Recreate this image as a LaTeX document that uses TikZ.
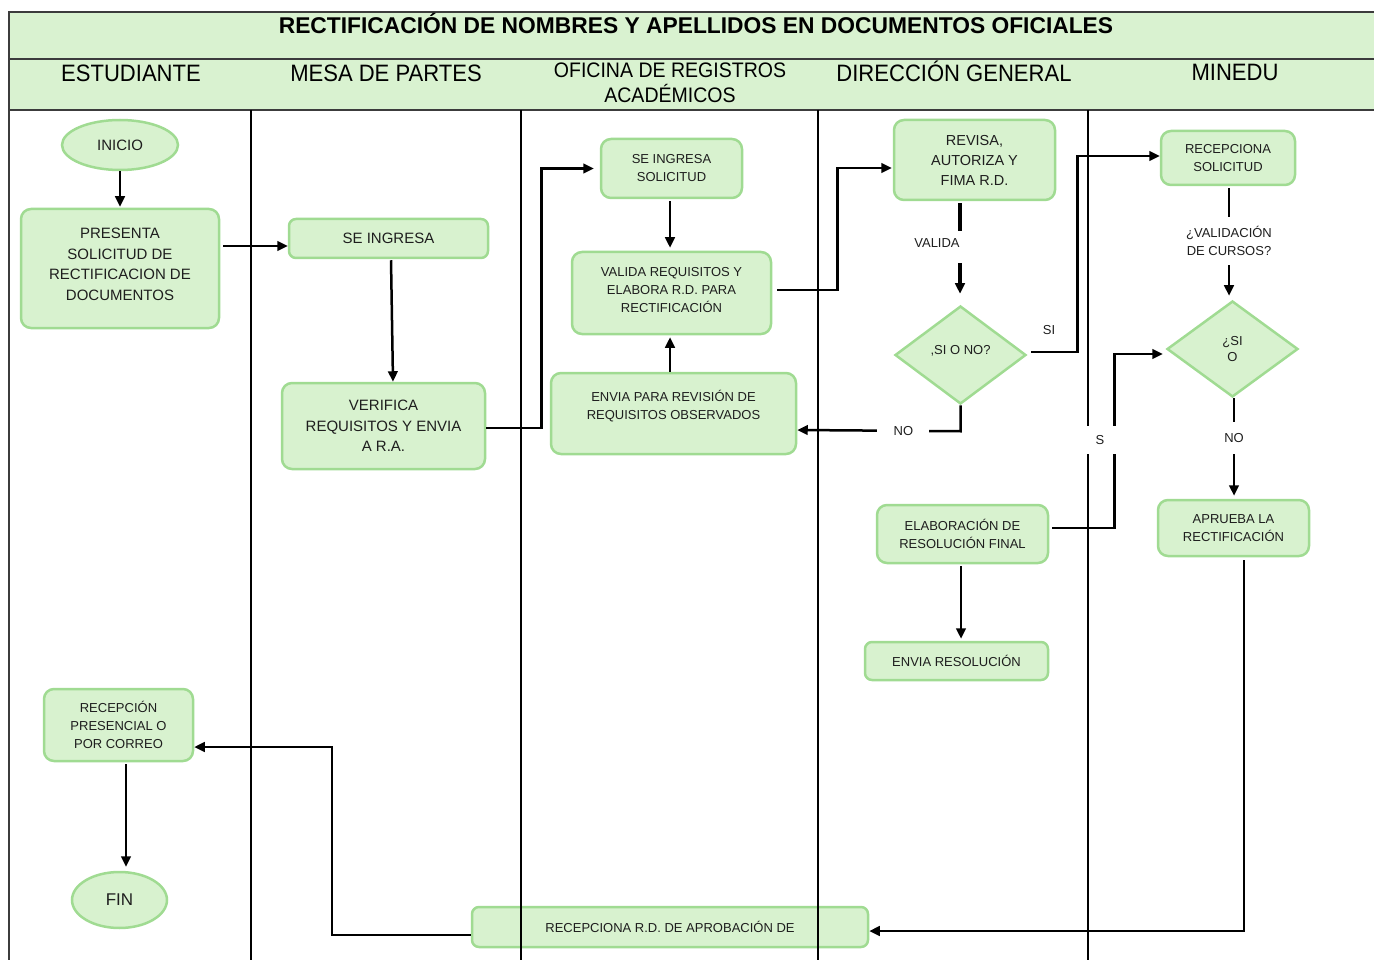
\documentclass[tikz,border=0pt]{standalone}
\usepackage{fontspec}
\setmainfont{Liberation Sans}
\newfontfamily\hdrfont[FakeStretch=0.93]{Liberation Sans}
\usetikzlibrary{shapes.geometric,arrows.meta,calc}
\definecolor{hdrfill}{RGB}{217,242,208}
\definecolor{boxfill}{RGB}{216,242,207}
\definecolor{boxline}{RGB}{160,219,146}
\definecolor{txt}{RGB}{30,30,30}
\definecolor{rule}{RGB}{60,60,60}
\begin{document}
\begin{tikzpicture}[x=1pt,y=-1pt,
  box/.style={draw=boxline, fill=boxfill, line width=2.5pt, rounded corners=10pt, align=center, inner sep=2pt, text=txt},
  big/.style={font=\fontsize{15}{20.5}\selectfont},
  small/.style={font=\fontsize{13}{18}\selectfont},
  term/.style={ellipse, draw=boxline, fill=boxfill, line width=2.5pt, text=txt, inner sep=0pt},
  dec/.style={diamond, draw=boxline, fill=boxfill, line width=2.5pt, text=txt, inner sep=0pt, align=center, font=\fontsize{13}{16}\selectfont},
  arr/.style={line width=2.5pt, -{Triangle[length=10.5pt,width=9.5pt]}},
  lbl/.style={fill=white, text=txt, font=\fontsize{13}{18}\selectfont, align=center, inner sep=3pt},
  plainlbl/.style={text=txt, font=\fontsize{13}{18}\selectfont, align=center, inner sep=0pt},
  lane/.style={line width=1.1pt, draw=black},
  hdr/.style={font=\hdrfont\fontsize{23.7}{25}\selectfont, text=black, anchor=base, inner sep=0pt}]
\useasboundingbox (0,0) rectangle (1374,960);
% header band
\fill[hdrfill] (9,12) rectangle (1374,110);
\draw[rule, line width=1.4pt] (1374,12) -- (9,12) -- (9,960);
\draw[rule, line width=1.2pt] (9,59) -- (1374,59);
\draw[rule, line width=1.2pt] (9,110) -- (1374,110);
\node[font=\bfseries\fontsize{22.8}{24}\selectfont, anchor=base, inner sep=0pt] (title) at (696,34) {RECTIFICACIÓN DE NOMBRES Y APELLIDOS EN DOCUMENTOS OFICIALES};
\node[hdr] (h1) at (131,82) {ESTUDIANTE};
\node[hdr] (h2) at (386,82) {MESA DE PARTES};
\node[hdr, font=\hdrfont\fontsize{21}{24.5}\selectfont, align=center, anchor=north] (h3) at (670,63) {OFICINA DE REGISTROS\\ACADÉMICOS};
\node[hdr] (h4) at (954,82) {DIRECCIÓN GENERAL};
\node[hdr] (h5) at (1235,81) {MINEDU};

% nodes
\node[term, minimum width=116pt, minimum height=50pt, font=\fontsize{15}{18}\selectfont] (inicio) at (120,145) {INICIO};
\node[box,big, minimum width=198pt, minimum height=119pt] (presenta) at (120,268.5) {PRESENTA\\SOLICITUD DE\\RECTIFICACION DE\\DOCUMENTOS\\[-12pt]\mbox{}};
\node[box,big, rounded corners=7pt, minimum width=199pt, minimum height=39pt] (ingresa) at (388.5,238.5) {SE INGRESA};
\node[box,big, minimum width=203pt, minimum height=86pt] (verifica) at (383.5,426) {VERIFICA\\REQUISITOS Y ENVIA\\A R.A.};
\node[box,small, minimum width=141pt, minimum height=59pt] (solic) at (671.5,168.5) {SE INGRESA\\SOLICITUD};
\node[box,small, minimum width=199pt, minimum height=82pt] (valida) at (671.5,293) {VALIDA REQUISITOS Y\\ELABORA R.D. PARA\\RECTIFICACIÓN\\[-12pt]\mbox{}};
\node[box,small, minimum width=245pt, minimum height=81pt] (envia) at (673.5,413.5) {ENVIA PARA REVISIÓN DE\\REQUISITOS OBSERVADOS\\\mbox{}};
\node[box, font=\fontsize{14.5}{20}\selectfont, minimum width=161pt, minimum height=80pt] (revisa) at (974.5,160) {REVISA,\\AUTORIZA Y\\FIMA R.D.};
\node[dec, minimum width=131pt, minimum height=98pt] (dec1) at (960.5,355) {,SI O NO?\\[-6pt]\mbox{}};
\node[box,small, minimum width=134pt, minimum height=54pt] (recep) at (1228,158) {RECEPCIONA\\SOLICITUD};
\node[dec, minimum width=131pt, minimum height=96pt] (dec2) at (1232.5,349) {¿SI\\O};
\node[box,small, minimum width=151pt, minimum height=56pt] (aprueba) at (1233.5,528) {APRUEBA LA\\RECTIFICACIÓN};
\node[box,small, minimum width=171pt, minimum height=58pt] (elab) at (962.5,534) {ELABORACIÓN DE\\RESOLUCIÓN FINAL};
\node[box,small, rounded corners=7pt, minimum width=183pt, minimum height=38pt] (envres) at (956.5,661) {ENVIA RESOLUCIÓN};
\node[box,small, minimum width=149pt, minimum height=72pt] (recpres) at (118.5,725) {RECEPCIÓN\\PRESENCIAL O\\POR CORREO};
\node[term, minimum width=95pt, minimum height=56pt, font=\fontsize{17}{20}\selectfont] (fin) at (119.5,900) {FIN};
\node[box,small, rounded corners=7pt, minimum width=396pt, minimum height=40pt] (rrd) at (670,927) {RECEPCIONA R.D. DE APROBACIÓN DE};

% lanes (drawn over boxes)
\foreach \x in {251,521,818,1088} \draw[lane] (\x,110) -- (\x,960);

% connectors
\draw[arr, shorten >=1pt] (inicio.south) -- (presenta.north);
\draw[arr] ([xshift=3pt,yshift=22.5pt]presenta.east) -- ([yshift=-7.5pt]ingresa.west);
\draw[arr, shorten <=1pt] ([xshift=2.5pt]ingresa.south) -- ([xshift=9.5pt]verifica.north);
\draw[arr, shorten >=6pt] ([yshift=-2pt]verifica.east) -- ++(55,0) |- (solic.west);
\draw[arr, shorten <=2pt, shorten >=3pt] ([xshift=-1.5pt]solic.south) -- ([xshift=-1.5pt]valida.south |- valida.north);
\draw[arr, shorten >=2pt] ([xshift=-3.5pt]envia.north) -- ([xshift=-3.5pt]envia.north |- valida.south);
\draw[arr, shorten >=1pt] ([xshift=5pt,yshift=3pt]valida.east) -- ++(60,0) |- ([yshift=-8pt]revisa.west);
\draw[line width=3.5pt] ([xshift=-14.5pt,yshift=-2pt]revisa.south) -- ++(0,28);
\draw[arr, line width=3.5pt, shorten >=11pt] ([xshift=-14.5pt,yshift=-62pt]revisa.south) -- ([xshift=-14.5pt]revisa.south |- dec1.north);
\node[plainlbl] (lvalida) at (937,243) {VALIDA};
\draw[arr] ([xshift=4pt,yshift=3pt]dec1.east) -- ++(46,0) |- ([yshift=2pt]recep.west);
\node[plainlbl] (lsi) at (1049,330) {SI};
\draw[arr] (dec1.south) -- ++(0,26) -- node[lbl, pos=0.35, minimum width=52pt, minimum height=26pt] (lno1) {NO} ([yshift=-16.5pt]envia.east);
\draw[arr, shorten <=2pt, shorten >=4pt] ([xshift=1pt]recep.south) -- node[lbl, pos=0.48, minimum height=48pt] (lval) {¿VALIDACIÓN\\DE CURSOS?} ([xshift=1pt]recep.south |- dec2.north);
\draw[arr, shorten >=3pt] ([xshift=1.5pt]dec2.south) -- node[lbl, pos=0.4, minimum height=32pt] (lno2) {NO} ([xshift=0.5pt]aprueba.north);
\draw[arr, shorten >=3pt] ([xshift=3pt,yshift=6pt]elab.east) -- ++(62,0) |- ([yshift=-5pt]dec2.west);
\draw[arr, shorten <=2pt, shorten >=2pt] ([xshift=-1.5pt]elab.south) -- ([xshift=-1.5pt]elab.south |- envres.north);
\draw[arr] ([xshift=10.5pt,yshift=-3pt]aprueba.south) |- ([yshift=-4pt]rrd.east);
\draw[arr] ([yshift=-8pt]rrd.west) -- ++(-139,0) |- ([yshift=-22pt]recpres.east);
\draw[arr, shorten <=2pt, shorten >=4pt] ([xshift=7.5pt]recpres.south) -- ([xshift=7.5pt]recpres.south |- fin.north);
\node[lbl, minimum width=36pt, minimum height=28pt] (ls) at (1100,440) {S};
\end{tikzpicture}
\end{document}
